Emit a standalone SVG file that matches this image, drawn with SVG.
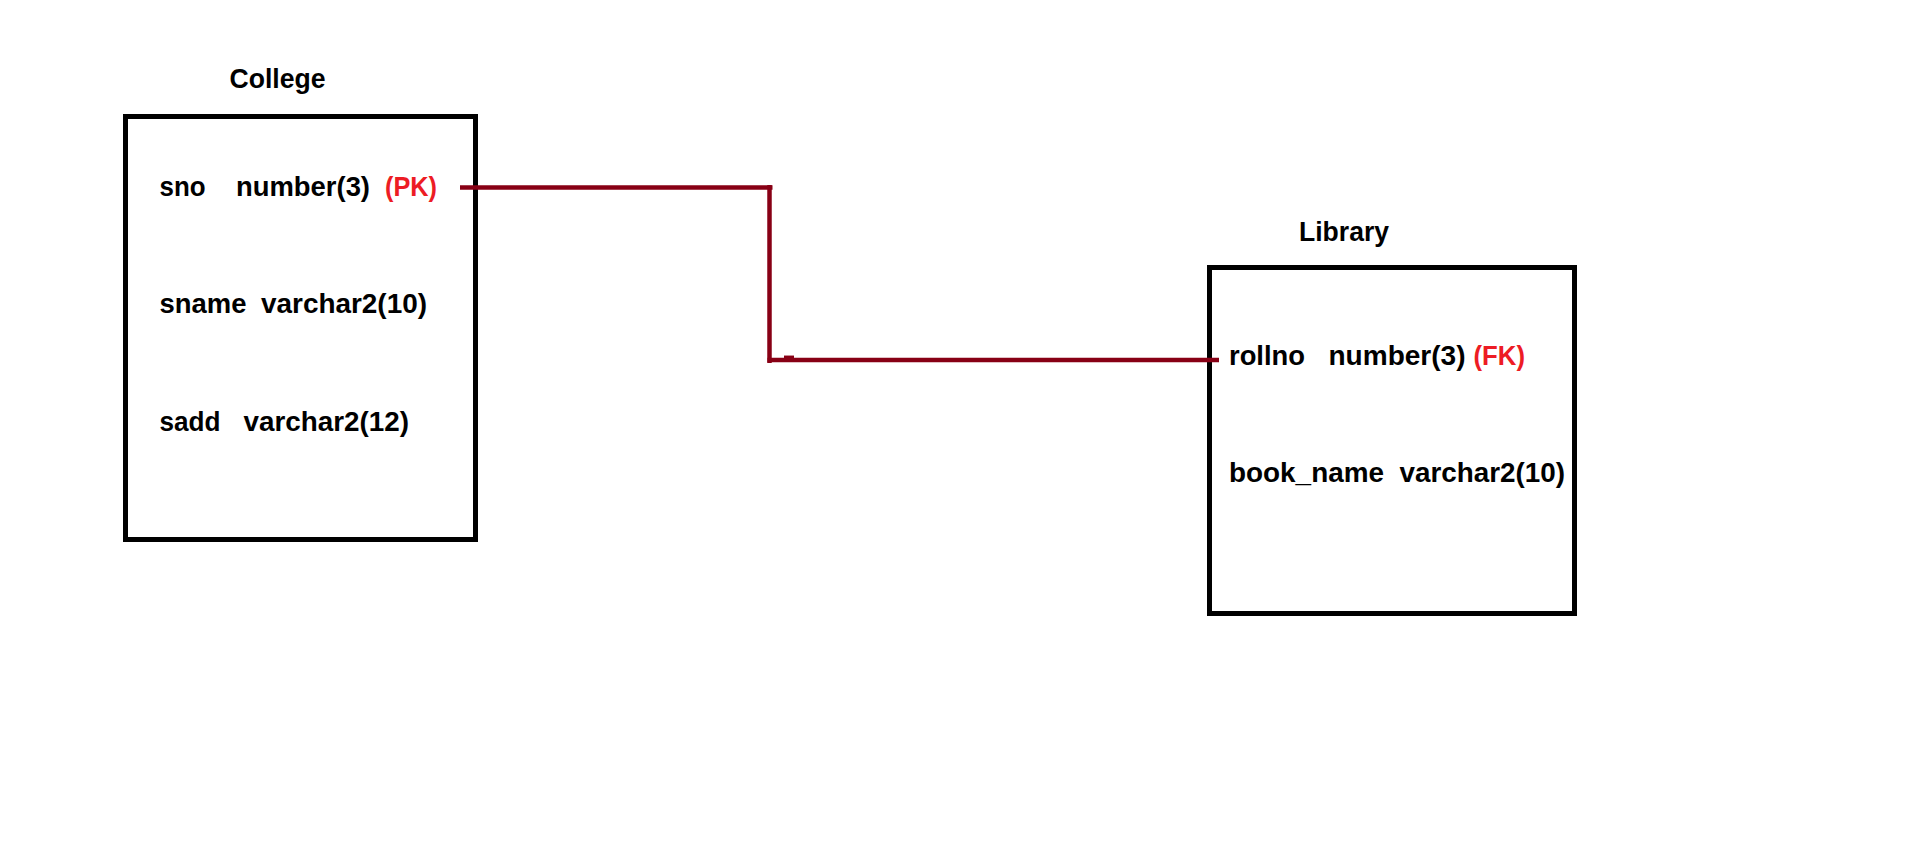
<svg xmlns="http://www.w3.org/2000/svg" width="1914" height="867" viewBox="0 0 1914 867">
<style>
.box{fill:none;stroke:#000;stroke-width:5}
.t{font-family:"Liberation Sans",Arial,sans-serif;font-weight:bold;font-size:28.5px;fill:#000}
.title{font-size:27.5px}
.key{fill:#ED1C24}
.conn{fill:none;stroke:#880015;stroke-width:4.5}
</style>
<rect width="1914" height="867" fill="#fff"/>
<g id="college">
<text class="t title" x="229.5" y="88" textLength="96" lengthAdjust="spacingAndGlyphs">College</text>
<rect class="box" x="125.5" y="116.5" width="350" height="423"/>
<text class="t" x="159.5" y="196" textLength="46" lengthAdjust="spacingAndGlyphs">sno</text>
<text class="t" x="236" y="196" textLength="134" lengthAdjust="spacingAndGlyphs">number(3)</text>
<text class="t key" x="385" y="196" textLength="52" lengthAdjust="spacingAndGlyphs">(PK)</text>
<text class="t" x="159.5" y="313" textLength="87" lengthAdjust="spacingAndGlyphs">sname</text>
<text class="t" x="261" y="313" textLength="166" lengthAdjust="spacingAndGlyphs">varchar2(10)</text>
<text class="t" x="159.5" y="430.5" textLength="61" lengthAdjust="spacingAndGlyphs">sadd</text>
<text class="t" x="243.5" y="430.5" textLength="165.5" lengthAdjust="spacingAndGlyphs">varchar2(12)</text>
</g>
<g id="library">
<text class="t title" x="1299" y="241" textLength="90" lengthAdjust="spacingAndGlyphs">Library</text>
<rect class="box" x="1209.5" y="267.5" width="365" height="346"/>
<text class="t" x="1229" y="365" textLength="76" lengthAdjust="spacingAndGlyphs">rollno</text>
<text class="t" x="1328.5" y="365" textLength="137" lengthAdjust="spacingAndGlyphs">number(3)</text>
<text class="t key" x="1473.5" y="365" textLength="51.5" lengthAdjust="spacingAndGlyphs">(FK)</text>
<text class="t" x="1229" y="481.5" textLength="155" lengthAdjust="spacingAndGlyphs">book_name</text>
<text class="t" x="1399.5" y="481.5" textLength="165.5" lengthAdjust="spacingAndGlyphs">varchar2(10)</text>
</g>
<g id="connectors">
<path class="conn" d="M460,187.5 H772.5"/>
<path class="conn" d="M769.5,185 V363"/>
<path class="conn" d="M767.5,360 H1219"/>
<path class="conn" stroke-width="1.5" d="M784,357.8 H794"/>
</g>
</svg>
